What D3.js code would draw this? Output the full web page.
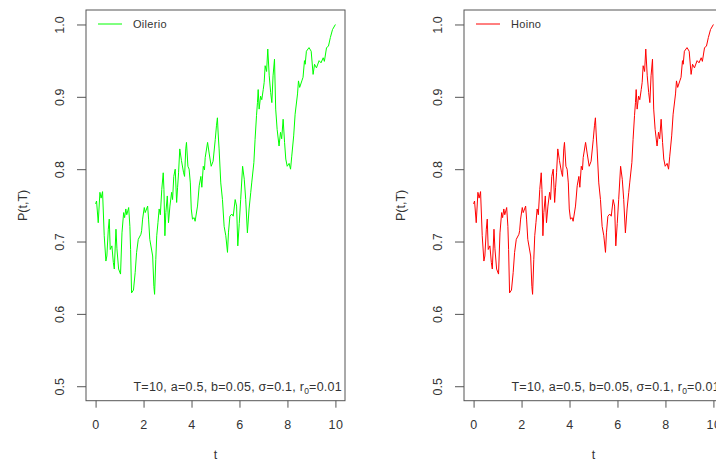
<!DOCTYPE html>
<html>
<head>
<meta charset="utf-8">
<script src="https://cdn.jsdelivr.net/npm/d3@7"></script>
<style>
  body { margin: 0; background: #fff; }
  svg text { font-family: "Liberation Sans", Arial, sans-serif; fill: #333; }
</style>
</head>
<body>
<svg width="716" height="464"></svg>
<script>
// path, same in both panels
var tValues = [0, 0.04, 0.11, 0.18, 0.23, 0.29, 0.36, 0.43, 0.47, 0.53, 0.57, 0.61, 0.68, 0.74, 0.78, 0.85, 0.89, 0.96,
  1.04, 1.10, 1.17, 1.21, 1.26, 1.30, 1.38, 1.43, 1.46, 1.50, 1.58, 1.65, 1.71, 1.78, 1.89, 1.92, 1.96,
  2.03, 2.07, 2.17, 2.21, 2.26, 2.38, 2.43, 2.46, 2.51, 2.55, 2.60, 2.65, 2.70, 2.76, 2.82, 2.85, 2.89, 2.93, 2.99,
  3.04, 3.10, 3.17, 3.21, 3.26, 3.32, 3.38, 3.42, 3.46, 3.51, 3.58, 3.67, 3.71, 3.76, 3.79, 3.85, 3.90, 3.95, 3.99,
  4.04, 4.11, 4.15, 4.25, 4.32, 4.39, 4.43, 4.49, 4.54, 4.57, 4.67, 4.74, 4.82, 4.90, 4.99,
  5.04, 5.08, 5.11, 5.15, 5.22, 5.29, 5.36, 5.43, 5.50, 5.54, 5.60, 5.68, 5.74, 5.82, 5.88, 5.93, 5.99,
  6.05, 6.13, 6.20, 6.26, 6.33, 6.40, 6.47, 6.51, 6.60, 6.65, 6.71, 6.75, 6.78, 6.82, 6.88, 6.93, 6.99,
  7.03, 7.07, 7.13, 7.18, 7.24, 7.30, 7.35, 7.40, 7.46, 7.51, 7.57, 7.65, 7.71, 7.76, 7.82, 7.88, 7.93, 7.99,
  8.07, 8.13, 8.18, 8.26, 8.32, 8.42, 8.46, 8.51, 8.60, 8.65, 8.71, 8.74, 8.79, 8.90, 8.99,
  9.07, 9.13, 9.21, 9.32, 9.40, 9.49, 9.54, 9.63, 9.71, 9.79, 9.88, 10];

var priceValues = [0.752, 0.756, 0.726, 0.768, 0.760, 0.769, 0.708, 0.673, 0.680, 0.717, 0.731, 0.689, 0.694, 0.671, 0.662, 0.717, 0.690, 0.662,
  0.655, 0.712, 0.740, 0.733, 0.745, 0.737, 0.747, 0.721, 0.689, 0.629, 0.633, 0.657, 0.685, 0.703, 0.710, 0.715, 0.731,
  0.747, 0.740, 0.749, 0.731, 0.703, 0.680, 0.638, 0.627, 0.675, 0.708, 0.726, 0.745, 0.737, 0.772, 0.795, 0.772, 0.708, 0.740, 0.763,
  0.726, 0.749, 0.768, 0.758, 0.790, 0.800, 0.754, 0.775, 0.795, 0.828, 0.812, 0.795, 0.790, 0.828, 0.837, 0.804, 0.800, 0.781, 0.745,
  0.731, 0.733, 0.728, 0.749, 0.777, 0.790, 0.775, 0.804, 0.799, 0.816, 0.837, 0.821, 0.804, 0.811, 0.841,
  0.860, 0.871, 0.850, 0.828, 0.781, 0.758, 0.721, 0.708, 0.685, 0.712, 0.735, 0.738, 0.735, 0.758, 0.749, 0.694, 0.725,
  0.758, 0.804, 0.786, 0.758, 0.712, 0.745, 0.768, 0.781, 0.809, 0.841, 0.874, 0.892, 0.910, 0.883, 0.901, 0.896, 0.910,
  0.920, 0.943, 0.935, 0.966, 0.929, 0.906, 0.892, 0.929, 0.952, 0.883, 0.855, 0.832, 0.851, 0.842, 0.869, 0.837, 0.814, 0.804,
  0.808, 0.800, 0.818, 0.846, 0.876, 0.904, 0.922, 0.913, 0.922, 0.927, 0.950, 0.945, 0.963, 0.968, 0.963,
  0.931, 0.945, 0.940, 0.950, 0.947, 0.954, 0.949, 0.968, 0.970, 0.982, 0.993, 1.000];

var xTicks = [0, 2, 4, 6, 8, 10];
var yTicks = [0.5, 0.6, 0.7, 0.8, 0.9, 1.0];
var panelNames = ['Oilerio', 'Hoino'];
var panelColors = ['#00ff00', '#ff0000'];

var svg = d3.select('svg');
var box = {l: 86, r: 345, t: 10, b: 400.7};
var panelShift = 378;

var points = tValues.map(function(t, i) { return {t: t, p: priceValues[i]}; });

var xScale = d3.scaleLinear().domain([-0.4, 10.4]).range([box.l, box.r]);
var yScale = d3.scaleLinear().domain([0.48, 1.02]).range([box.b, box.t]);

var line = d3.line()
    .x(function(d) { return xScale(d.t); })
    .y(function(d) { return yScale(d.p); });

function drawPanel(i) {
    var g = svg.append('g')
        .attr('transform', 'translate(' + (i * panelShift) + ',0)');

    g.append('path')
        .datum(points)
        .attr('d', line)
        .attr('fill', 'none')
        .attr('stroke', panelColors[i])
        .attr('stroke-width', 1);

    g.append('rect')
        .attr('x', box.l)
        .attr('y', box.t)
        .attr('width', box.r - box.l)
        .attr('height', box.b - box.t)
        .attr('fill', 'none')
        .attr('stroke', '#555')
        .attr('stroke-width', 1);

    // x axis
    var xAxis = g.append('g')
        .attr('transform', 'translate(0,' + box.b + ')')
        .call(d3.axisBottom(xScale).tickValues(xTicks).tickSize(7).tickPadding(12).tickFormat(d3.format('d')));
    xAxis.select('.domain').remove();
    xAxis.selectAll('line').attr('stroke', '#555');
    xAxis.selectAll('text')
        .style('font-size', '12.5px')
        .style('letter-spacing', '0.5px')
        .attr('fill', '#444');

    // y axis
    var yAxis = g.append('g')
        .attr('transform', 'translate(' + box.l + ',0)')
        .call(d3.axisLeft(yScale).tickValues(yTicks).tickSize(9).tickFormat(d3.format('.1f')));
    yAxis.select('.domain').remove();
    yAxis.selectAll('line').attr('stroke', '#555');
    yAxis.selectAll('text')
        .attr('x', null)
        .attr('dy', null)
        .attr('transform', 'translate(-22,0) rotate(-90)')
        .style('text-anchor', 'middle')
        .style('font-size', '12.5px')
        .attr('fill', '#444');

    g.append('text')
        .attr('transform', 'translate(27,' + ((box.t + box.b) / 2) + ') rotate(-90)')
        .style('text-anchor', 'middle')
        .style('font-size', '12.5px')
        .text('P(t,T)');

    g.append('text')
        .attr('x', (box.l + box.r) / 2)
        .attr('y', 459)
        .style('text-anchor', 'middle')
        .style('font-size', '12.5px')
        .text('t');

    // legend
    g.append('line')
        .attr('x1', 98).attr('x2', 122)
        .attr('y1', 24).attr('y2', 24)
        .attr('stroke', panelColors[i])
        .attr('stroke-width', 1);
    g.append('text')
        .attr('x', 133)
        .attr('y', 28)
        .style('font-size', '11px')
        .style('letter-spacing', '0.3px')
        .attr('fill', '#111')
        .text(panelNames[i]);

    // parameters note
    var note = g.append('text')
        .attr('x', 342)
        .attr('y', 391)
        .style('text-anchor', 'end')
        .style('font-size', '12.5px')
        .style('letter-spacing', '0.25px')
        .attr('fill', '#222');
    note.append('tspan').text('T=10, a=0.5, b=0.05, \u03c3=0.1, r');
    note.append('tspan').attr('dy', 3).style('font-size', '8.5px').text('0');
    note.append('tspan').attr('dy', -3).text('=0.01');
}

panelNames.forEach(function(name, i) { drawPanel(i); });
</script>
</body>
</html>
